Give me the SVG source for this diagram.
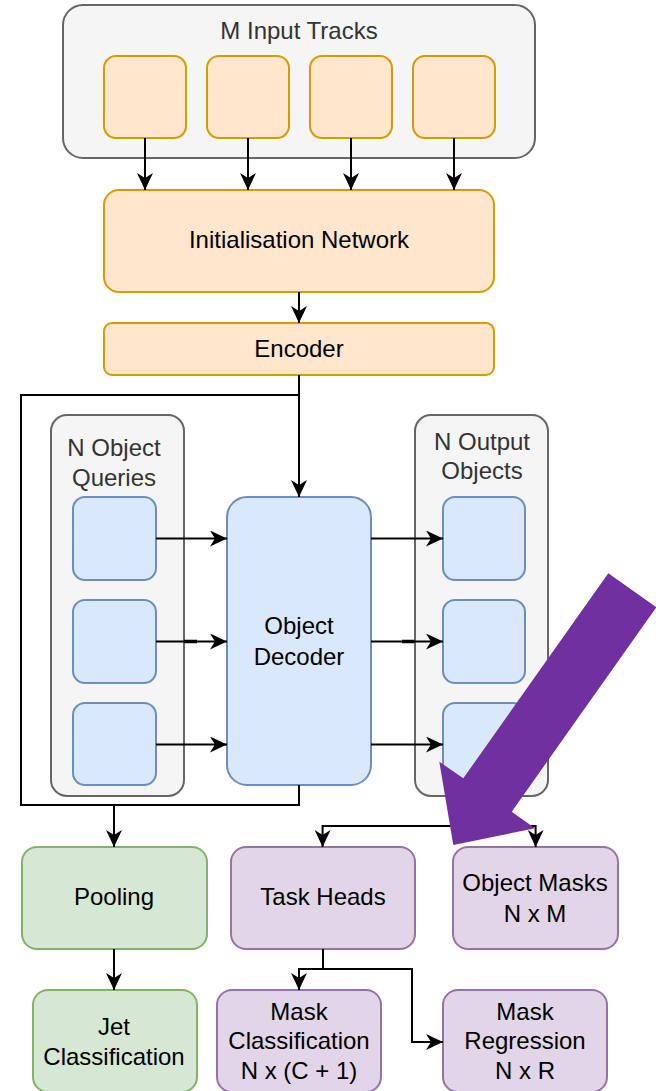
<svg xmlns="http://www.w3.org/2000/svg" width="656" height="1091" viewBox="0 0 656 1091">
<defs>
<style>
text{font-family:"Liberation Sans",Arial,sans-serif;font-size:24px;fill:#000;text-anchor:middle}
.lbl{fill:#333}
.cont{fill:#f5f5f5;stroke:#666;stroke-width:2}
.or{fill:#ffe6cc;stroke:#d79b00;stroke-width:2}
.bl{fill:#dae8fc;stroke:#6c8ebf;stroke-width:2}
.gr{fill:#d5e8d4;stroke:#82b366;stroke-width:2}
.pu{fill:#e1d5e7;stroke:#9673a6;stroke-width:2}
.e{fill:none;stroke:#000;stroke-width:2}
.ea{fill:none;stroke:#000;stroke-width:2;marker-end:url(#ah)}
</style>
<marker id="ah" markerUnits="userSpaceOnUse" viewBox="0 0 17 16" markerWidth="17" markerHeight="16" refX="17" refY="8" orient="auto">
<path d="M0,0 L17,8 L0,16 L5,8 Z" fill="#000"/>
</marker>
</defs>

<g id="input-tracks">
<rect class="cont" x="63" y="5" width="472" height="153" rx="20"/>
<text class="lbl" x="299" y="39">M Input Tracks</text>
<rect class="or" x="104" y="56" width="82" height="82" rx="12"/>
<rect class="or" x="207" y="56" width="82" height="82" rx="12"/>
<rect class="or" x="310" y="56" width="82" height="82" rx="12"/>
<rect class="or" x="413" y="56" width="82" height="82" rx="12"/>
</g>

<g id="init-network">
<rect class="or" x="104" y="190" width="390" height="102" rx="15"/>
<text x="299" y="248">Initialisation Network</text>
</g>

<g id="encoder">
<rect class="or" x="104" y="323" width="390" height="52" rx="8"/>
<text x="299" y="357">Encoder</text>
</g>

<g id="object-queries">
<rect class="cont" x="51" y="415" width="133" height="381" rx="16"/>
<text class="lbl" x="114" y="456">N Object</text>
<text class="lbl" x="114" y="486">Queries</text>
<rect class="bl" x="73" y="497" width="83" height="83" rx="12"/>
<rect class="bl" x="73" y="600" width="83" height="83" rx="12"/>
<rect class="bl" x="73" y="703" width="83" height="82" rx="12"/>
</g>

<g id="object-decoder">
<rect class="bl" x="227" y="497" width="144" height="288" rx="20"/>
<text x="299" y="634">Object</text>
<text x="299" y="665">Decoder</text>
</g>

<g id="output-objects">
<rect class="cont" x="415" y="415" width="133" height="381" rx="16"/>
<text class="lbl" x="482" y="450">N Output</text>
<text class="lbl" x="482" y="479">Objects</text>
<rect class="bl" x="443" y="497" width="82" height="83" rx="12"/>
<rect class="bl" x="443" y="600" width="82" height="83" rx="12"/>
<rect class="bl" x="443" y="703" width="82" height="82" rx="12"/>
</g>

<g id="pooling">
<rect class="gr" x="22" y="847" width="185" height="102" rx="15"/>
<text x="114" y="905">Pooling</text>
</g>

<g id="task-heads">
<rect class="pu" x="231" y="847" width="184" height="102" rx="15"/>
<text x="323" y="905">Task Heads</text>
</g>

<g id="object-masks">
<rect class="pu" x="453" y="847" width="165" height="102" rx="15"/>
<text x="535" y="891">Object Masks</text>
<text x="535" y="922">N x M</text>
</g>

<g id="jet-classification">
<rect class="gr" x="33" y="990" width="164" height="102" rx="15"/>
<text x="114" y="1035">Jet</text>
<text x="114" y="1065">Classification</text>
</g>

<g id="mask-classification">
<rect class="pu" x="217" y="990" width="164" height="102" rx="15"/>
<text x="299" y="1020">Mask</text>
<text x="299" y="1049">Classification</text>
<text x="299" y="1079">N x (C + 1)</text>
</g>

<g id="mask-regression">
<rect class="pu" x="443" y="990" width="164" height="102" rx="15"/>
<text x="525" y="1020">Mask</text>
<text x="525" y="1049">Regression</text>
<text x="525" y="1079">N x R</text>
</g>

<g id="connectors">
<path class="ea" d="M145,138 V190"/>
<path class="ea" d="M248,138 V190"/>
<path class="ea" d="M351,138 V190"/>
<path class="ea" d="M454,138 V190"/>
<path class="ea" d="M299,292 V323"/>
<path class="ea" d="M299,375 V497"/>
<path class="ea" d="M299,375 V395 H21 V805 H114 V847"/>
<path class="e" d="M299,785 V805 H114"/>
<path class="ea" d="M156,538.5 H227"/>
<path class="ea" d="M156,641.5 H227"/>
<path class="ea" d="M156,744.5 H227"/>
<path class="ea" d="M371,538.5 H443"/>
<path class="ea" d="M371,641.5 H443"/>
<path class="ea" d="M371,744.5 H443"/>
<path d="M184,641.5 H197 M402,641.5 H414" stroke="#000" stroke-width="3.5" fill="none"/>
<path class="ea" d="M482,795 V826 H322.6 V847"/>
<path class="ea" d="M482,826 H535.6 V847"/>
<path class="ea" d="M114,949 V990"/>
<path class="ea" d="M323,949 V969 H299 V990"/>
<path class="ea" d="M323,969 H412 V1042 H443"/>
</g>

<g id="highlight-arrow">
<polygon points="608.3,573.3 463.3,778.3 439.3,761.7 453.3,845 535,828.3 511.7,811.7 656.3,607.3" fill="#7030a0"/>
</g>
</svg>
